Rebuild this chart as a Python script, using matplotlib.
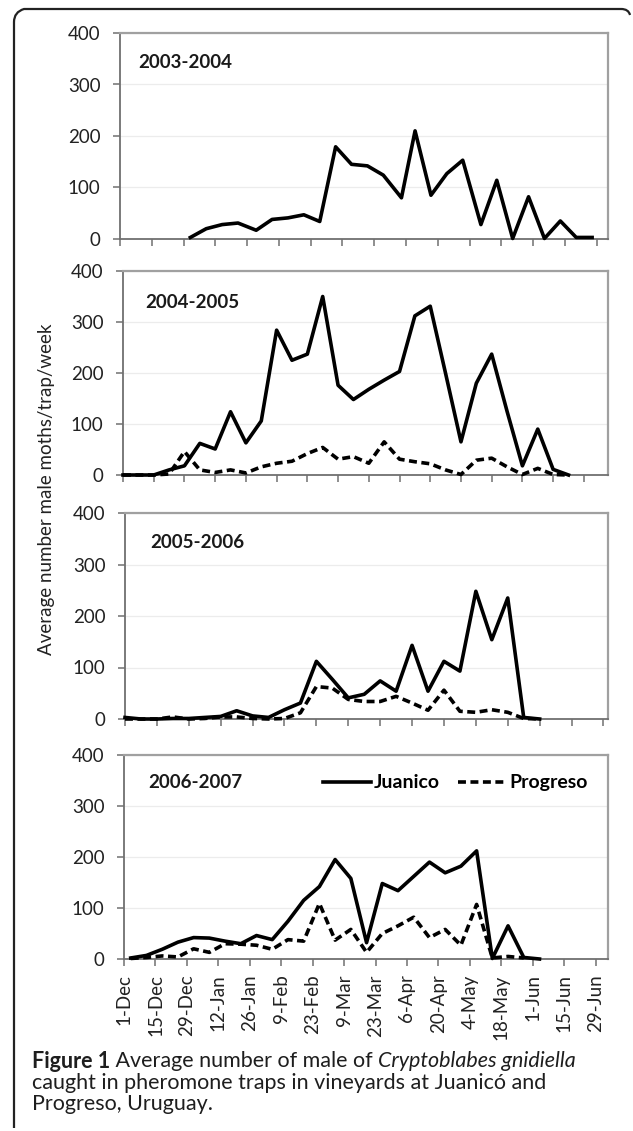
import matplotlib
matplotlib.use('Agg')
import matplotlib.pyplot as plt
from matplotlib.path import Path
from matplotlib.patches import PathPatch

plt.rcParams['font.family'] = ['Lato', 'DejaVu Sans']

W, H = 633, 1131

tick_days = [0, 14, 28, 42, 56, 70, 84, 98, 112, 126, 140, 154, 168, 182, 196, 210]
tick_labels = ['1-Dec', '15-Dec', '29-Dec', '12-Jan', '26-Jan', '9-Feb', '23-Feb', '9-Mar',
               '23-Mar', '6-Apr', '20-Apr', '4-May', '18-May', '1-Jun', '15-Jun', '29-Jun']

seasons = ['2003-2004', '2004-2005', '2005-2006', '2006-2007']

# days counted from 1 Dec
days_0304 = [31, 38, 45, 52, 60, 67, 74, 81, 88, 95, 102, 109, 116, 124, 130, 137, 144,
             151, 159, 166, 173, 180, 187, 194, 201, 208]
juanico_0304 = [3, 20, 28, 31, 17, 38, 41, 47, 34, 179, 145, 142, 124, 80, 210, 85, 127,
                153, 28, 114, 1, 82, 1, 35, 3, 3]

days_0405 = [0, 7, 14, 21, 28, 35, 42, 49, 56, 63, 70, 77, 84, 91, 98, 105, 112, 119, 126,
             133, 140, 147, 154, 161, 168, 175, 182, 189, 196, 203]
juanico_0405 = [0, 0, 0, 10, 18, 62, 51, 124, 63, 106, 284, 225, 237, 350, 176, 148, 168,
                186, 203, 312, 331, 199, 65, 180, 237, 125, 18, 90, 11, 0]
progreso_0405 = [0, 0, 0, 2, 46, 10, 5, 10, 4, 16, 23, 27, 42, 54, 31, 36, 23, 65, 31, 26,
                 22, 10, 1, 29, 33, 16, 1, 13, 1, 0]

days_0506 = [0, 7, 14, 21, 28, 35, 42, 49, 56, 63, 70, 77, 84, 91, 98, 105, 112, 119, 126,
             133, 140, 147, 154, 161, 168, 175, 182]
juanico_0506 = [3, 0, 0, 1, 1, 3, 5, 16, 6, 3, 18, 31, 112, 77, 41, 48, 74, 54, 143, 54,
                112, 93, 248, 154, 235, 3, 0]
progreso_0506 = [0, 0, 0, 4, 0, 1, 4, 4, 1, 0, 1, 12, 63, 60, 38, 34, 34, 44, 31, 17, 56,
                 15, 13, 18, 13, 1, 0]

days_0607 = [3, 10, 17, 24, 31, 38, 45, 52, 59, 66, 73, 80, 87, 94, 101, 108, 115, 122,
             129, 136, 143, 150, 157, 164, 171, 178, 185]
juanico_0607 = [2, 7, 19, 33, 42, 41, 35, 30, 46, 38, 74, 115, 142, 195, 158, 32, 148, 134,
                162, 190, 169, 182, 212, 1, 65, 3, 0]
progreso_0607 = [1, 3, 6, 4, 20, 13, 30, 29, 27, 19, 38, 35, 109, 37, 58, 13, 50, 65, 82,
                 42, 58, 27, 107, 2, 5, 2]

panels = [
    (days_0304, juanico_0304, None),
    (days_0405, juanico_0405, progreso_0405),
    (days_0506, juanico_0506, progreso_0506),
    (days_0607, juanico_0607, progreso_0607),
]

# layout in pixels (left, top, bottom), right edge shared
lefts = [120, 123, 125, 124]
tops = [33, 271, 513, 755]
bottoms = [239, 475, 719, 959]
right = 608
xmax = [215, 221, 212, 215.5]
label_pos = [(138, 63), (145, 302), (150, 542), (148, 783)]

fig = plt.figure(figsize=(W / 100, H / 100), dpi=100)

dash = (0, (2.2, 1.25))
axes = []
for i, (days, juan, prog) in enumerate(panels):
    l, t, b = lefts[i], tops[i], bottoms[i]
    ax = fig.add_axes([l / W, 1 - b / H, (right - l) / W, (b - t) / H])
    axes.append(ax)
    ax.plot(days, juan, color='black', lw=2.6, clip_on=False, zorder=4, label='Juanico')
    if prog is not None:
        ax.plot(days[:len(prog)], prog, color='black', lw=2.6, linestyle=dash,
                clip_on=False, zorder=3, label='Progreso')
    ax.set_xlim(0, xmax[i])
    ax.set_ylim(0, 400)
    ax.set_yticks([0, 100, 200, 300, 400])
    ax.set_xticks(tick_days)
    ax.grid(axis='y', color='#ececec', lw=0.9)
    ax.set_axisbelow(True)
    for s in ['top', 'right']:
        ax.spines[s].set_color('#a0a0a0')
        ax.spines[s].set_linewidth(1.6)
    for s in ['left', 'bottom']:
        ax.spines[s].set_color('#707070')
        ax.spines[s].set_linewidth(1.3)
    ax.tick_params(axis='both', direction='out', length=5, width=1.1, color='#707070',
                   labelsize=13.5, labelcolor='#222222')
    ax.tick_params(axis='y', pad=9)
    if i < 3:
        ax.tick_params(axis='x', labelbottom=False)
    else:
        ax.set_xticklabels(tick_labels, rotation=90)
        ax.tick_params(axis='x', pad=6)
    lx, ly = label_pos[i]
    ax.text((lx - l) / (right - l), (b - ly) / (b - t), seasons[i], transform=ax.transAxes,
            fontsize=13.5, fontweight='bold', color='#1a1a1a', ha='left', va='center')

axes[3].legend(loc='center right', bbox_to_anchor=(0.978, 0.863), ncol=2, frameon=False,
               handlelength=2.5, handletextpad=0.15, columnspacing=0.9, borderpad=0,
               prop={'size': 14, 'weight': 'bold'})

fig.text(47 / W, 1 - 489 / H, 'Average number male moths/trap/week', rotation=90,
         ha='center', va='center', fontsize=13.5, color='#222222')

# panel frame: left rule and rounded top rule
pts = [(14, 1128), (14, 22), (14, 12), (24, 9), (34, 9), (621, 9), (626, 9), (629, 11), (630, 15)]
codes = [Path.MOVETO, Path.LINETO, Path.CURVE3, Path.CURVE3, Path.LINETO, Path.LINETO,
         Path.CURVE4, Path.CURVE4, Path.CURVE4]
path = Path([(x / W, 1 - y / H) for x, y in pts], codes)
fig.add_artist(PathPatch(path, fill=False, lw=1.6, edgecolor='#222222',
                         transform=fig.transFigure))

# caption
cap_color = '#1e1e1e'
cap_size = 15.5
t1 = fig.text(32 / W, 1 - 1061 / H, 'Figure 1', fontsize=cap_size, fontweight='bold',
              color=cap_color, va='center', ha='left')
t2 = fig.text(0, 0, ' Average number of male of ', fontsize=cap_size, color=cap_color,
              va='center', ha='left')
t3 = fig.text(0, 0, 'Cryptoblabes gnidiella', fontsize=cap_size, style='italic',
              color=cap_color, va='center', ha='left')
fig.canvas.draw()
inv = fig.transFigure.inverted()
x1 = inv.transform((t1.get_window_extent().x1, 0))[0]
t2.set_position((x1, 1 - 1061 / H))
fig.canvas.draw()
x2 = inv.transform((t2.get_window_extent().x1, 0))[0]
t3.set_position((x2, 1 - 1061 / H))
fig.text(32 / W, 1 - 1083 / H, 'caught in pheromone traps in vineyards at Juanicó and',
         fontsize=cap_size, color=cap_color, va='center', ha='left')
fig.text(32 / W, 1 - 1104 / H, 'Progreso, Uruguay.', fontsize=cap_size, color=cap_color,
         va='center', ha='left')

fig.savefig('out.png', dpi=100)
